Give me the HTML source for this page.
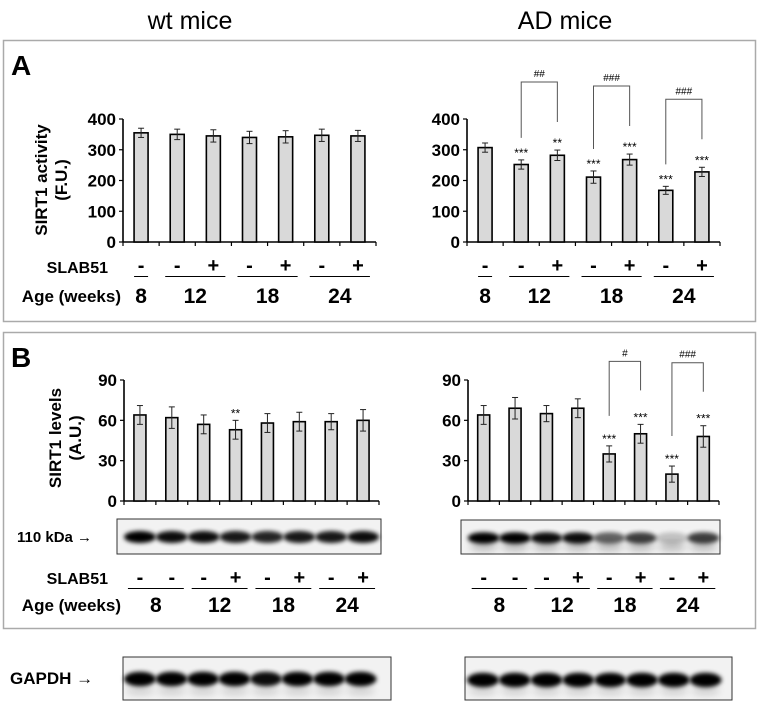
<!DOCTYPE html>
<html><head><meta charset="utf-8">
<style>
html,body{margin:0;padding:0;background:#fff;}
svg{display:block;font-family:"Liberation Sans",Arial,sans-serif;}
</style></head>
<body>
<svg id="fig" width="761" height="701" viewBox="0 0 761 701">
<defs>
<filter id="blur2" x="-20%" y="-50%" width="140%" height="200%"><feGaussianBlur stdDeviation="2"/></filter>
<filter id="blur4" x="-20%" y="-50%" width="140%" height="200%"><feGaussianBlur stdDeviation="4"/></filter>
</defs>
<text x="190" y="29" font-size="25" text-anchor="middle">wt mice</text>
<text x="565" y="29" font-size="25" text-anchor="middle">AD mice</text>
<rect x="3.5" y="40.5" width="752" height="281" fill="none" stroke="#aaa" stroke-width="1.5"/>
<rect x="3.5" y="332.5" width="752" height="296" fill="none" stroke="#aaa" stroke-width="1.5"/>
<text x="11" y="75" font-size="28" font-weight="bold">A</text>
<text x="11" y="367" font-size="28" font-weight="bold">B</text>
<g id="layer"></g>
</svg>
<script>
// ---- data ----
const aWtValues = [355, 350, 345, 340, 342, 347, 345];
const aWtErrors = [15, 17, 20, 20, 20, 20, 18];
const aWtStars = ["", "", "", "", "", "", ""];
const aAdValues = [307, 252, 282, 211, 268, 168, 228];
const aAdErrors = [15, 15, 17, 20, 18, 13, 15];
const aAdStars = ["", "***", "**", "***", "***", "***", "***"];
const aTicks = [0, 100, 200, 300, 400];
const aSlab = ["-", "-", "+", "-", "+", "-", "+"];
const aAgeLabels = ["8", "12", "18", "24"];
const aAgeGroups = [[0, 0], [1, 2], [3, 4], [5, 6]];
const aAdBrackets = [[1, 2, "##"], [3, 4, "###"], [5, 6, "###"]];

const bWtValues = [64, 62, 57, 53, 58, 59, 59, 60];
const bWtErrors = [7, 8, 7, 7, 7, 7, 6, 8];
const bWtStars = ["", "", "", "**", "", "", "", ""];
const bAdValues = [64, 69, 65, 69, 35, 50, 20, 48];
const bAdErrors = [7, 8, 6, 7, 6, 7, 6, 8];
const bAdStars = ["", "", "", "", "***", "***", "***", "***"];
const bTicks = [0, 30, 60, 90];
const bSlab = ["-", "-", "-", "+", "-", "+", "-", "+"];
const bAgeLabels = ["8", "12", "18", "24"];
const bAgeGroups = [[0, 1], [2, 3], [4, 5], [6, 7]];
const bAdBrackets = [[4, 5, "#"], [6, 7, "###"]];
const bWtBand = [1.0, 0.95, 0.95, 0.9, 0.85, 0.9, 0.9, 0.95];
const bAdBand = [1.0, 1.0, 0.95, 0.95, 0.6, 0.75, 0.2, 0.75];
const gWtBand = [1, 1, 1, 1, 0.95, 1, 1, 1];
const gAdBand = [1, 1, 1, 1, 1, 1, 1, 1];

const NS = "http://www.w3.org/2000/svg";
const layer = document.getElementById("layer");
function mk(tag, attrs, parent) {
  const e = document.createElementNS(NS, tag);
  for (const k in attrs) e.setAttribute(k, attrs[k]);
  (parent || layer).appendChild(e);
  return e;
}
function txt(x, y, s, size, anchor, bold, parent) {
  const t = mk("text", {x: x, y: y, "font-size": size, "text-anchor": anchor || "middle", "font-weight": bold ? "bold" : "normal"}, parent);
  t.textContent = s;
  return t;
}

function chart(cfg) {
  const g = mk("g", {});
  
  
  const n = cfg.values.length;
  const step = (cfg.x1 - cfg.x0) / n;
  const max = cfg.ticks[cfg.ticks.length - 1];
  const yS = v => cfg.yBase - (v / max) * (cfg.yBase - cfg.yTop);
  const xS = i => cfg.x0 + step * (i + 0.5);
  const ax = mk("line", {x1: cfg.x0, y1: cfg.yTop, x2: cfg.x0, y2: cfg.yBase, stroke: "#000", "stroke-width": 1.6}, g);
  
  
  const xx = mk("line", {x1: cfg.x0, y1: cfg.yBase, x2: cfg.x1, y2: cfg.yBase, stroke: "#000", "stroke-width": 1.6}, g);
  
  
  cfg.ticks.forEach(t => {
    mk("line", {x1: cfg.x0 - 4, y1: yS(t), x2: cfg.x0, y2: yS(t), stroke: "#000", "stroke-width": 1.2}, g);
    const tl = txt(cfg.x0 - 7, yS(t) + 6, String(t), 17, "end", true, g);
    
    
  });
  for (let i = 0; i <= n; i++) {
    mk("line", {x1: cfg.x0 + step * i, y1: cfg.yBase, x2: cfg.x0 + step * i, y2: cfg.yBase + 4, stroke: "#000", "stroke-width": 1.2}, g);
  }
  cfg.values.forEach((v, i) => {
    const bw = cfg.bw;
    const bar = mk("rect", {x: xS(i) - bw / 2, y: yS(v), width: bw, height: cfg.yBase - yS(v), fill: "#d9d9d9", stroke: "#000", "stroke-width": 1.6}, g);
    
    
    const e = cfg.errors[i];
    const eg = mk("g", {stroke: "#222", "stroke-width": 1}, g);
    
    
    mk("line", {x1: xS(i), y1: yS(v + e), x2: xS(i), y2: yS(v - e)}, eg);
    mk("line", {x1: xS(i) - 3, y1: yS(v + e), x2: xS(i) + 3, y2: yS(v + e)}, eg);
    mk("line", {x1: xS(i) - 3, y1: yS(v - e), x2: xS(i) + 3, y2: yS(v - e)}, eg);
    if (cfg.stars[i]) {
      const s = txt(xS(i), yS(v + e) - 3, cfg.stars[i], 12, "middle", false, g);
      
      
    }
  });
  (cfg.brackets || []).forEach(b => {
    const [a, c, lab] = b;
    const yl = yS(cfg.values[a] + cfg.errors[a]) - cfg.brL;
    const yr = yS(cfg.values[c] + cfg.errors[c]) - cfg.brR;
    const tp = Math.min(yl, yr) - cfg.brTop;
    const p = mk("path", {d: `M${xS(a)},${yl} V${tp} H${xS(c)} V${yr}`, fill: "none", stroke: "#555", "stroke-width": 1}, g);
    
    
    const bl = txt((xS(a) + xS(c)) / 2, tp - 5, lab, 10, "middle", false, g);
    
    
  });
  cfg.slab.forEach((s, i) => {
    const t = txt(xS(i), cfg.slabY, s, 20, "middle", true, g);
    
    
  });
  cfg.groups.forEach((gr, k) => {
    const l = xS(gr[0]) - (gr[0] === gr[1] ? 7 : 12);
    const r = xS(gr[1]) + (gr[0] === gr[1] ? 7 : 12);
    mk("line", {x1: l, y1: cfg.lineY, x2: r, y2: cfg.lineY, stroke: "#000", "stroke-width": 1}, g);
    const t = txt((xS(gr[0]) + xS(gr[1])) / 2, cfg.ageY, cfg.ages[k], 21, "middle", true, g);
    
    
  });
  return {xS: xS, step: step};
}

function blot(name, x, y, w, h, xs, bands, bandY, noise) {
  const g = mk("g", {});
  
  
  mk("rect", {x: x, y: y, width: w, height: h, fill: "#f2f2f2", stroke: "#333", "stroke-width": 1}, g);
  xs.forEach((cx, i) => {
    if (noise) mk("ellipse", {cx: cx, cy: y + h * 0.78, rx: 14, ry: 4, fill: "#000", opacity: 0.25 * noise, filter: "url(#blur4)"}, g);
    const b = mk("ellipse", {cx: cx, cy: bandY, rx: 16, ry: h * 0.17, fill: "#000", opacity: bands[i], filter: "url(#blur2)"}, g);
    
    
  });
}

// Panel A
const lbA = txt(108, 273, "SLAB51", 16, "end", true);


const agA = txt(121, 302, "Age (weeks)", 17, "end", true);


const ytA = mk("text", {transform: "translate(47,180) rotate(-90)", "font-size": 17, "font-weight": "bold", "text-anchor": "middle"});


ytA.innerHTML = '<tspan x="0" y="0">SIRT1 activity</tspan><tspan x="0" y="20">(F.U.)</tspan>';

chart({name: "chart-a-wt", values: aWtValues, errors: aWtErrors, stars: aWtStars, ticks: aTicks,
  x0: 123, x1: 376, yTop: 119, yBase: 242, bw: 14, slab: aSlab, groups: aAgeGroups, ages: aAgeLabels,
  slabY: 272, lineY: 276.5, ageY: 303});
chart({name: "chart-a-ad", values: aAdValues, errors: aAdErrors, stars: aAdStars, ticks: aTicks,
  x0: 467, x1: 720, yTop: 119, yBase: 242, bw: 14, slab: aSlab, groups: aAgeGroups, ages: aAgeLabels,
  slabY: 272, lineY: 276.5, ageY: 303, brackets: aAdBrackets, brL: 22, brR: 28, brTop: 40});

// Panel B
const lbB = txt(108, 584, "SLAB51", 16, "end", true);


const agB = txt(121, 611, "Age (weeks)", 17, "end", true);


const ytB = mk("text", {transform: "translate(61,438) rotate(-90)", "font-size": 17, "font-weight": "bold", "text-anchor": "middle"});


ytB.innerHTML = '<tspan x="0" y="0">SIRT1 levels</tspan><tspan x="0" y="20">(A.U.)</tspan>';

const cbw = chart({name: "chart-b-wt", values: bWtValues, errors: bWtErrors, stars: bWtStars, ticks: bTicks,
  x0: 124, x1: 379, yTop: 380, yBase: 501, bw: 12, slab: bSlab, groups: bAgeGroups, ages: bAgeLabels,
  slabY: 584, lineY: 588.5, ageY: 612});
const cba = chart({name: "chart-b-ad", values: bAdValues, errors: bAdErrors, stars: bAdStars, ticks: bTicks,
  x0: 468, x1: 719, yTop: 380, yBase: 501, bw: 12, slab: bSlab, groups: bAgeGroups, ages: bAgeLabels,
  slabY: 584, lineY: 588.5, ageY: 612, brackets: bAdBrackets, brL: 30, brR: 34, brTop: 29});

const kd = txt(17, 542, "110 kDa \u2192", 15, "start", true);


blot("sirt1-blot-wt", 117, 519, 264, 35, bWtValues.map((v, i) => cbw.xS(i)), bWtBand, 537, 0);
blot("sirt1-blot-ad", 461, 520, 259, 34, bAdValues.map((v, i) => cba.xS(i)), bAdBand, 538, 1);

// GAPDH
const gp = txt(10, 684, "GAPDH \u2192", 17, "start", true);


const gxW = gWtBand.map((v, i) => 140 + i * 31.5);
const gxA = gAdBand.map((v, i) => 483 + i * 31.8);
blot("gapdh-blot-wt", 123, 657, 268, 43, gxW, gWtBand, 679, 0.6);
blot("gapdh-blot-ad", 465, 657, 267, 43, gxA, gAdBand, 680, 0.6);
</script>
</body></html>
